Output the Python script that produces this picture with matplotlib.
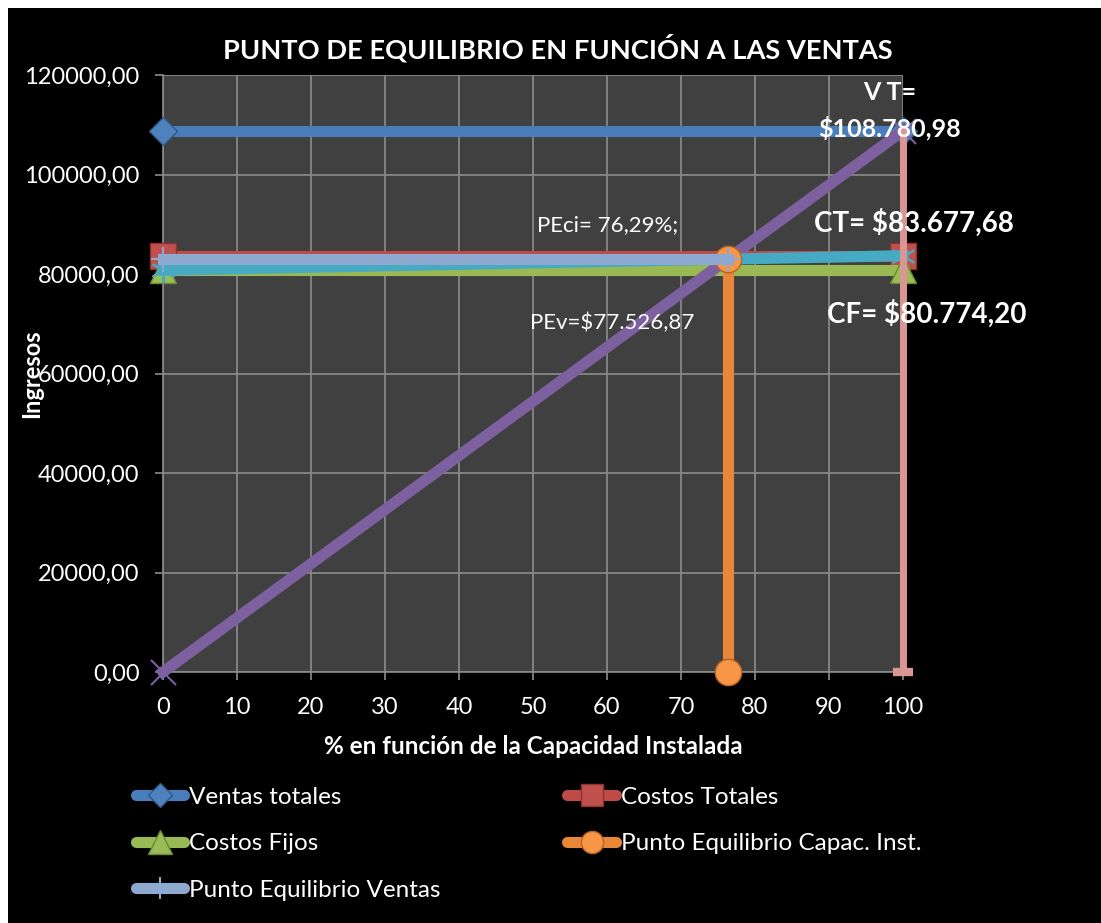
import matplotlib
matplotlib.use("Agg")
import matplotlib.pyplot as plt
from matplotlib.lines import Line2D
from matplotlib.patches import Rectangle

plt.rcParams['font.family'] = ['Lato', 'DejaVu Sans']

# data
x_ext = [0, 100]
ventas_totales = [108780.98, 108780.98]
costos_totales = [83677.68, 83677.68]
costos_fijos = [80774.20, 80774.20]
ingresos_x = [0, 100]
ingresos_y = [0, 108780.98]
costo_var_x = [0, 100]
costo_var_y = [80774.20, 83677.68]
pe_capac_x = [76.29, 76.29]
pe_capac_y = [0, 82989.0]
pe_ventas_x = [0, 76.29]
pe_ventas_y = [82989.0, 82989.0]
vt_vert_x = [100, 100]
vt_vert_y = [108780.98, 0]

yticks = [0, 20000, 40000, 60000, 80000, 100000, 120000]
xticks = list(range(0, 101, 10))

W, H = 1101, 923
fig = plt.figure(figsize=(W / 100, H / 100), dpi=100)
fig.patch.set_facecolor('white')
fig.add_artist(Rectangle((8 / W, 0), 1, 1 - 8 / H, transform=fig.transFigure,
                         facecolor='black', edgecolor='none', zorder=-10))

ax = fig.add_axes([163 / W, 1 - 672 / H, 740 / W, 597 / H])
ax.set_facecolor('#404040')

lw = 8
ax.plot(x_ext, ventas_totales, color='#4A7EBB', lw=lw, marker='D', ms=14,
        mfc='#4F81BD', mec='#2C5A8E', zorder=3, clip_on=False)
ax.plot(x_ext, costos_totales, color='#BE4B48', lw=lw, marker='s', ms=19,
        mfc='#C0504D', mec='#8C3230', zorder=4, clip_on=False)
ax.plot(x_ext, costos_fijos, color='#98B954', lw=lw, marker='^', ms=19,
        mfc='#9BBB59', mec='#6B8A35', zorder=5, clip_on=False)
ax.plot(ingresos_x, ingresos_y, color='#7D60A0', lw=lw, marker='x', ms=18,
        mew=1.5, mec='#7D60A0', zorder=6, clip_on=False)
ax.plot(costo_var_x, costo_var_y, color='#46AAC5', lw=lw, marker=(6, 2, 0), ms=18,
        mew=1.5, mec='#46AAC5', zorder=7, clip_on=False)
ax.plot(pe_capac_x, pe_capac_y, color='#E8873A', lw=lw, marker='o', ms=19,
        mfc='#F79646', mec='#B8621F', zorder=8, clip_on=False)
ax.plot(pe_ventas_x, pe_ventas_y, color='#8EA9D0', lw=lw, marker='+', ms=18,
        mew=1.5, mec='#8EA9D0', zorder=9, clip_on=False)
ax.plot(vt_vert_x, vt_vert_y, color='#D99694', lw=5, marker='_', ms=14, mew=6,
        mec='#D99694', markevery=[1], zorder=10, clip_on=False)

ax.set_xlim(0, 100)
ax.set_ylim(0, 120000)
ax.set_xticks(xticks)
ax.set_yticks(yticks)
ax.set_yticklabels([f"{v:.2f}".replace('.', ',') for v in yticks])
ax.grid(True, color='#8C8C8C', lw=1.2)
ax.set_axisbelow(True)
for s in ['top', 'right']:
    ax.spines[s].set_visible(False)
for s in ['left', 'bottom']:
    ax.spines[s].set_color('#8C8C8C')
    ax.spines[s].set_linewidth(1.2)
ax.tick_params(axis='both', colors='#8C8C8C', labelcolor='white', length=6,
               width=1.2, labelsize=17)
ax.tick_params(axis='y', pad=11)
ax.tick_params(axis='x', pad=12)

fig.text(558 / W, 1 - 48 / H, 'PUNTO DE EQUILIBRIO EN FUNCIÓN A LAS VENTAS',
         color='white', fontsize=19.6, fontweight='bold', ha='center', va='center')
fig.text(533 / W, 1 - 746 / H, '% en función de la Capacidad Instalada',
         color='white', fontsize=17.5, fontweight='bold', ha='center', va='center')
fig.text(32 / W, 1 - 374 / H, 'Ingresos', color='white', fontsize=17,
         fontweight='bold', ha='center', va='center', rotation=90)

# data labels
lbl = dict(color='white', ha='center', va='center', clip_on=False, zorder=20)
ax.text(98.2, 116400, 'V T=', fontsize=18, fontweight='bold', **lbl)
ax.text(98.1, 109350, '$108.780,98', fontsize=18, fontweight='bold', **lbl)
ax.text(101.5, 90250, 'CT= $83.677,68', fontsize=20, fontweight='bold', **lbl)
ax.text(103.2, 71960, 'CF= $80.774,20', fontsize=20, fontweight='bold', **lbl)
ax.text(60.1, 89850, 'PEci= 76,29%;', fontsize=16, **lbl)
ax.text(60.7, 70150, 'PEv=$77.526,87', fontsize=16, **lbl)

# legend (column-major order to get row layout of the original)
def h(color, marker, ms, **kw):
    return Line2D([], [], color=color, lw=8, marker=marker, ms=ms,
                  solid_capstyle='round', **kw)

handles = [
    h('#4A7EBB', 'D', 12, mfc='#4F81BD', mec='#2C5A8E'),
    h('#98B954', '^', 17, mfc='#9BBB59', mec='#6B8A35'),
    h('#8EA9D0', '+', 16, mew=1.5, mec='#8EA9D0'),
    h('#BE4B48', 's', 16, mfc='#C0504D', mec='#8C3230'),
    h('#E8873A', 'o', 16, mfc='#F79646', mec='#B8621F'),
]
labels = ['Ventas totales', 'Costos Fijos', 'Punto Equilibrio Ventas',
          'Costos Totales', 'Punto Equilibrio Capac. Inst.']
leg = fig.legend(handles, labels, ncol=2, loc='upper left',
                 bbox_to_anchor=(114 / W, 1 - 765 / H), frameon=False,
                 fontsize=17.5, labelcolor='white', handlelength=2.0,
                 handletextpad=0.2, columnspacing=5.2, labelspacing=1.05,
                 numpoints=1)

fig.savefig('out.png', dpi=100, facecolor=fig.get_facecolor())
